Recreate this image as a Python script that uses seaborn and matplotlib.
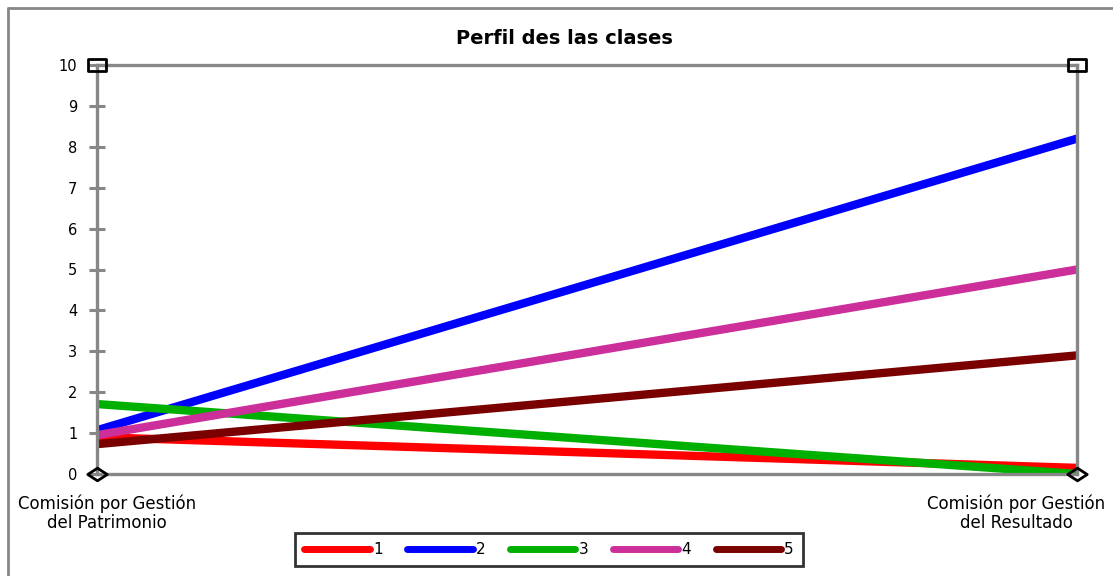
import matplotlib.pyplot as plt
import matplotlib.transforms as mtransforms
from matplotlib.lines import Line2D
from matplotlib.path import Path
import pandas as pd
import seaborn as sns

# Data
categorias = ['Comisión por Gestión\ndel Patrimonio', 'Comisión por Gestión\ndel Resultado']
clases = ['1', '2', '3', '4', '5']
patrimonio = [0.9, 1.07, 1.71, 0.95, 0.73]
resultado = [0.15, 8.2, 0.0, 5.0, 2.9]
colores = ['#ff0000', '#0000ff', '#00b000', '#cc2e9a', '#7a0000']
yticks = list(range(0, 11))

rows = []
for c, a, b in zip(clases, patrimonio, resultado):
    rows.append({'clase': c, 'pos': 0, 'valor': a})
    rows.append({'clase': c, 'pos': 1, 'valor': b})
df = pd.DataFrame(rows)

sns.set_style('white')
plt.rcParams['font.family'] = ['DejaVu Sans']
plt.rcParams['text.color'] = 'black'
plt.rcParams['xtick.labelcolor'] = 'black'
plt.rcParams['ytick.labelcolor'] = 'black'

W, H = 1113, 576
fig = plt.figure(figsize=(W / 100, H / 100), dpi=100)
ax = fig.add_axes([97 / W, 1 - 474 / H, (1077 - 97) / W, (474 - 65) / H])

sns.lineplot(data=df, x='pos', y='valor', hue='clase', palette=colores,
             linewidth=6, ax=ax, legend=False)
for ln in ax.get_lines():
    ln.set_solid_capstyle('butt')

ax.set_xlim(0, 1)
ax.set_ylim(0, 10)
ax.set_xlabel('')
ax.set_ylabel('')

grey = '#878787'
for s in ax.spines.values():
    s.set_visible(True)
    s.set_color(grey)
    s.set_linewidth(2.4)

ax.set_yticks(yticks)
ax.tick_params(axis='y', direction='inout', length=12, width=2.2, color=grey,
               pad=8, labelsize=10.5, left=True)

ax.set_xticks([0, 1])
ax.set_xticklabels(categorias, fontsize=12, linespacing=1.05)
ax.tick_params(axis='x', length=0, pad=15)
offs = [-79, 28]
has = ['left', 'right']
for lab, dx, ha in zip(ax.get_xticklabels(), offs, has):
    lab.set_ha(ha)
    lab.set_multialignment('center')
    lab.set_transform(lab.get_transform() + mtransforms.ScaledTranslation(dx / 100, 0, fig.dpi_scale_trans))

# Excel-style markers at the top and bottom of each axis
rect = Path([(-1, -0.65), (1, -0.65), (1, 0.65), (-1, 0.65), (-1, -0.65)],
            [Path.MOVETO, Path.LINETO, Path.LINETO, Path.LINETO, Path.CLOSEPOLY])
diam = Path([(-1, 0), (0, -0.65), (1, 0), (0, 0.65), (-1, 0)],
            [Path.MOVETO, Path.LINETO, Path.LINETO, Path.LINETO, Path.CLOSEPOLY])
ax.plot([0, 1], [10, 10], linestyle='none', marker=rect, markersize=13,
        markerfacecolor='none', markeredgecolor='black', markeredgewidth=2, clip_on=False, zorder=5)
ax.plot([0, 1], [0, 0], linestyle='none', marker=diam, markersize=14,
        markerfacecolor='none', markeredgecolor='black', markeredgewidth=2, clip_on=False, zorder=5)

fig.text(564 / W, 1 - 38 / H, 'Perfil des las clases', ha='center', va='center',
         fontsize=14, fontweight='bold')

handles = [Line2D([], [], color=c, linewidth=5, solid_capstyle='round') for c in colores]
leg = fig.legend(handles, clases, loc='center', bbox_to_anchor=(549 / W, 1 - 549.5 / H),
                 ncol=5, frameon=True, fancybox=False, fontsize=11, handlelength=4.3,
                 handletextpad=0.2, columnspacing=1.6, borderpad=0.6, borderaxespad=0)
leg.get_frame().set_edgecolor('black')
leg.get_frame().set_linewidth(2)

# outer chart border (partially visible)
fig.add_artist(Line2D([8 / W, 8 / W], [0, 1 - 8 / H], color=grey, linewidth=2))
fig.add_artist(Line2D([8 / W, 1], [1 - 8 / H, 1 - 8 / H], color=grey, linewidth=2))

fig.savefig('out.png', dpi=100)
